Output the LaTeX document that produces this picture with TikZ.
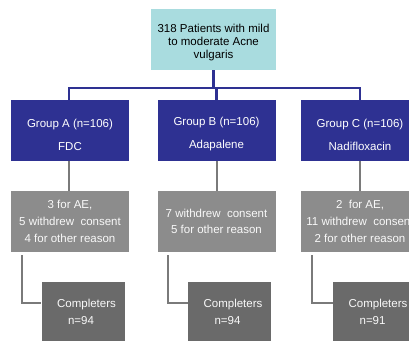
\documentclass[tikz,border=0pt]{standalone}
\usepackage{fontspec}
\setmainfont{Liberation Sans}
\definecolor{topfill}{HTML}{A9DCDF}
\definecolor{grpfill}{HTML}{2E3192}
\definecolor{grayfill}{HTML}{8C8C8C}
\definecolor{compfill}{HTML}{6A6A6A}
\definecolor{grayline}{HTML}{7A7A7A}
\begin{document}
\begin{tikzpicture}[x=1pt,y=-1pt,
  box/.style={rectangle,inner sep=0pt,align=center},
  topbox/.style={box,fill=topfill,minimum width=125pt,minimum height=61pt},
  toptext/.style={box,text=black,font=\fontsize{11.5}{12.7}\selectfont},
  grpbox/.style={box,fill=grpfill,minimum width=118pt,minimum height=61pt},
  grptext/.style={box,text=white,font=\fontsize{11.5}{23}\selectfont},
  graybox/.style={box,fill=grayfill,text=white!95!gray,minimum width=118pt,minimum height=61pt,font=\fontsize{11.5}{16.7}\selectfont},
  compbox/.style={box,fill=compfill,text=white!95!gray,minimum width=83pt,minimum height=60pt,align=left,font=\fontsize{11.5}{16.7}\selectfont},
  blueline/.style={draw=grpfill,line width=2.4pt},
  grayconn/.style={draw=grayline,line width=2pt}]
\useasboundingbox (0,0) rectangle (409,340);
\clip (0,0) rectangle (409,340);
\fill[white] (0,0) rectangle (409,340);
\node[topbox] (top) at (213.5,39.5) {};
\node[toptext] (topt) at ([yshift=-3pt]top.center) {318 Patients with mild\\to moderate Acne\\vulgaris};
\node[grpbox] (grpA) at (70,130.5) {};
\node[grpbox] (grpB) at (216.5,130.5) {};
\node[grpbox] (grpC) at (360,130.5) {};
\node[grptext] (grpAt) at ([yshift=-4pt]grpA.center) {Group A (n=106)\\FDC};
\node[grptext] (grpBt) at ([yshift=-4pt]grpB.center) {Group B (n=106)\\Adapalene};
\node[grptext] (grpCt) at ([yshift=-4pt]grpC.center) {Group C (n=106)\\Nadifloxacin};
\node[graybox] (grayA) at (70,221.5) {3 for AE,\\5 withdrew\ \ consent\\4 for other reason};
\node[graybox] (grayB) at (216.5,221.5) {7 withdrew\ \ consent\\5 for other reason};
\node[graybox] (grayC) at (360,221.5) {2\ \ for AE,\\11 withdrew\ \ consent\\2 for other reason};
\node[compbox] (compA) at (83,312) {\hspace*{7pt}Completers\\\hspace*{18pt}n=94};
\node[compbox] (compB) at (229.5,312) {\hspace*{7pt}Completers\\\hspace*{18pt}n=94};
\node[compbox] (compC) at (374.5,312) {\hspace*{7pt}Completers\\\hspace*{18pt}n=91};
\coordinate (bus) at (213.5,88);
\draw[blueline] (top.south) -- (bus);
\draw[blueline] ([xshift=-1pt]grpA.north) |- (bus) -| (grpC.north);
\draw[blueline] (grpB.north) -- (grpB.north |- bus);
\draw[grayconn] ([xshift=-1pt]grpA.south) -- ([xshift=-1pt]grayA.north);
\draw[grayconn] (grpB.south) -- (grayB.north);
\draw[grayconn] (grpC.south) -- (grayC.north);
\draw[grayconn] ([xshift=11pt,yshift=-3pt]grayA.south west) |- ([yshift=9pt]compA.west);
\draw[grayconn] ([xshift=11pt,yshift=-3pt]grayB.south west) |- ([yshift=9pt]compB.west);
\draw[grayconn] ([xshift=11pt,yshift=-3pt]grayC.south west) |- ([yshift=9pt]compC.west);
\end{tikzpicture}
\end{document}
